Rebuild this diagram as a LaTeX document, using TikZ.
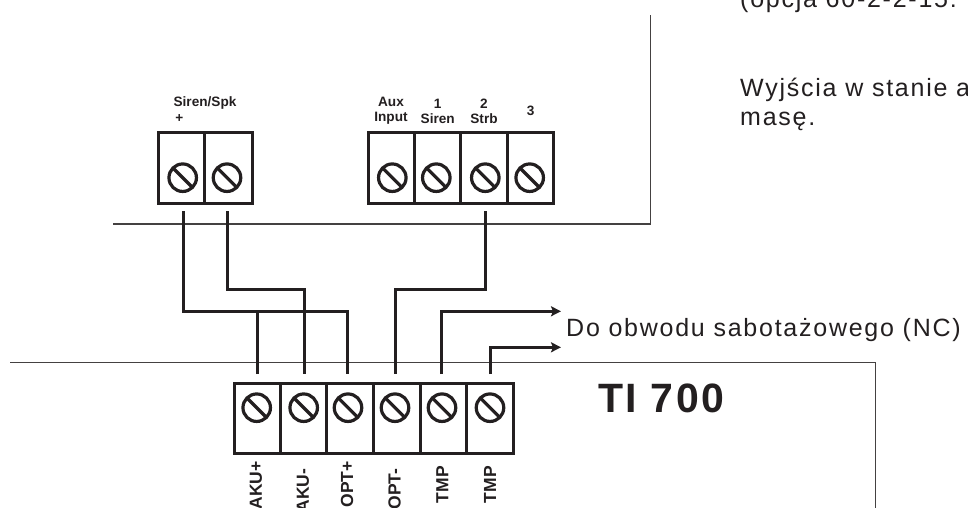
\documentclass[tikz,border=0pt]{standalone}
\usepackage{fontspec}
\setmainfont{Liberation Sans}
\newfontfamily\spaced[LetterSpace=7]{Liberation Sans}
\newfontfamily\spacedb[LetterSpace=6]{Liberation Sans Bold}
\usetikzlibrary{arrows.meta}
\definecolor{ink}{HTML}{231F20}
\tikzset{
  x=1pt,y=-1pt,
  frameline/.style={draw=ink!85,line width=1.1pt},
  wire/.style={draw=ink,line width=3pt},
  wirearrow/.style={wire,-{Stealth[length=10pt,width=10pt,inset=2pt]}},
  termbox/.style={draw=ink,line width=3pt,inner sep=0pt,outer sep=0pt,anchor=north west},
  uppertb/.style={termbox,minimum height=71pt},
  lowertb/.style={termbox,minimum height=69.5pt},
  screwnode/.style={circle,draw=ink,line width=3.2pt,minimum size=27.5pt,inner sep=0pt,
    path picture={\draw[ink,line width=3.2pt] (path picture bounding box.north west) -- (path picture bounding box.south east);}},
  toplabel/.style={font=\fontsize{13.6}{14.6}\selectfont\bfseries,align=center,inner sep=0pt,text=ink,anchor=base},
  vlabel/.style={font=\fontsize{17.5}{18}\selectfont\bfseries,rotate=90,anchor=east,inner sep=0pt,text=ink},
  bodytext/.style={font=\spaced\fontsize{25}{28}\selectfont,anchor=base west,inner sep=0pt,text=ink},
}
\begin{document}
\begin{tikzpicture}
\useasboundingbox (0,0) rectangle (968,508);
\clip (0,0) rectangle (968,508);
% frames
\coordinate (ta) at (113,224); \coordinate (tb) at (650.5,224); \coordinate (tc) at (650.5,15);
\draw[frameline] (ta) -- (tb) -- (tc);
\coordinate (ba) at (10,362.7); \coordinate (bb) at (875.3,362.7); \coordinate (bc) at (875.3,508);
\draw[frameline] (ba) -- (bb) -- (bc);
% upper terminals
\foreach \n/\xa/\w/\sx in {a/158/46.7/182.7,b/204.7/47.3/227,c/368/46/392.3,d/414/46.7/436.3,e/460.7/46.6/485.3,f/507.3/45.7/529.7}{
  \node[uppertb,minimum width=\w pt] (box\n) at (\xa,132) {};
  \node[screwnode] (s\n) at (\sx,177.7) {};
}
% lower terminals
\foreach \n/\xa/\w/\sx in {g/234/46/256.7,h/280/46.7/303.7,i/326.7/46.6/348,j/373.3/46.7/395,k/420/46.7/442,l/466.7/46.3/490}{
  \node[lowertb,minimum width=\w pt] (box\n) at (\xa,383.7) {};
  \node[screwnode] (s\n) at (\sx,407.7) {};
}
% wire stubs
\coordinate (wa) at (183.3,211); \coordinate (wb) at (227.3,211); \coordinate (we) at (485.7,211);
\coordinate (wg) at (257,374); \coordinate (wh) at (304,374); \coordinate (wi) at (347.7,374);
\coordinate (wj) at (395,374); \coordinate (wk) at (441.7,374); \coordinate (wl) at (490,374);
\coordinate (arrA) at (561,311.3); \coordinate (arrB) at (561,347.3);
\draw[wire] (wa) |- (wi|-0,311) -- (wi);
\draw[wire] (wg) -- (wg|-0,311);
\draw[wire] (wb) |- (wh|-0,289) -- (wh);
\draw[wire] (we) |- (wj|-0,289) -- (wj);
\draw[wirearrow] (wk) |- (arrA);
\draw[wirearrow] (wl) |- (arrB);
% labels
\node[toplabel] (l1) at (205,106.7) {Siren/Spk};
\node[toplabel] (l2) at (179.3,122) {+};
\node[toplabel] (l3) at (391,121.3) {Aux\\Input};
\node[toplabel] (l4) at (437.7,123.3) {1\\Siren};
\node[toplabel] (l5) at (484,123.3) {2\\Strb};
\node[toplabel] (l6) at (530.7,116) {3};
\foreach \n/\t/\px/\py in {g/AKU+/256/461,h/AKU-/303/468.5,i/OPT+/347/461,j/OPT-/394.5/468.5,k/TMP/442.3/466,l/TMP/490/466}{
  \node[vlabel] (v\n) at (\px,\py) {\t};
}
\node[bodytext] (note1) at (740,8) {(opcja 60-2-2-15:};
\node[bodytext] (note2) at (740,96) {Wyjścia w stanie a};
\node[bodytext] (note3) at (740,125) {masę.};
\node[bodytext] (do) at (566,336) {Do obwodu sabotażowego (NC)};
\node[font=\spacedb\fontsize{41}{43}\selectfont,anchor=base west,inner sep=0pt,text=ink] (ti) at (598,412.3) {TI 700};
\end{tikzpicture}
\end{document}
